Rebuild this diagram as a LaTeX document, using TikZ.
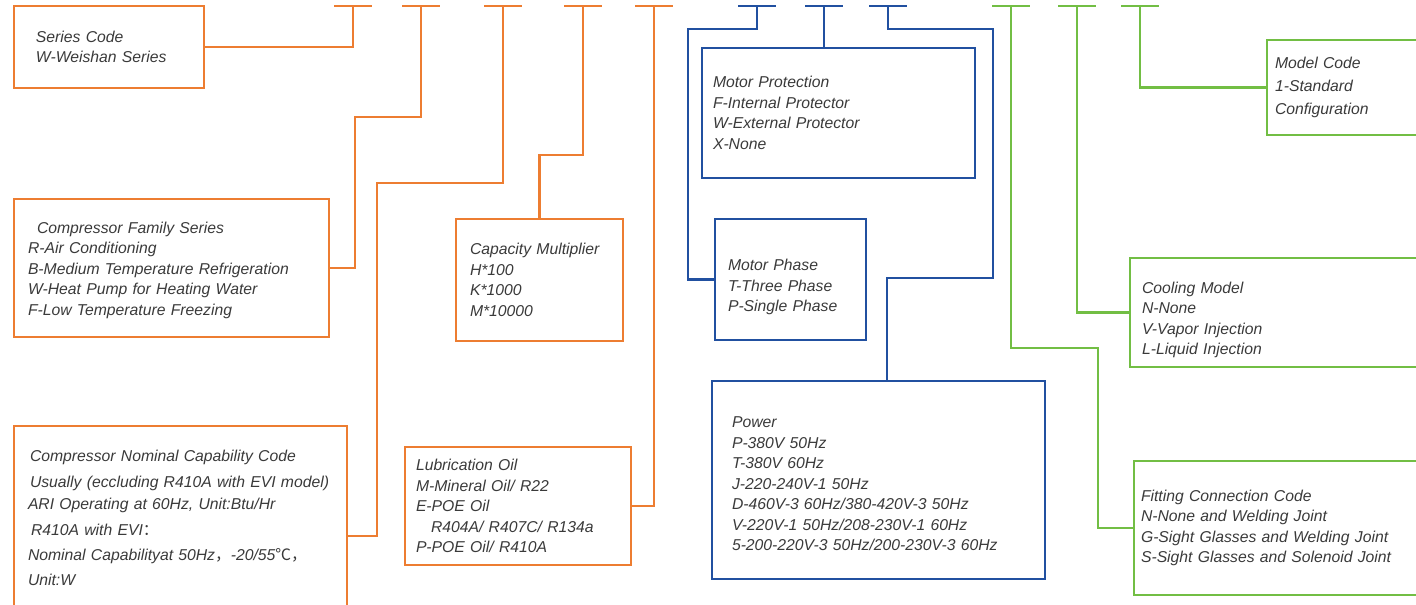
\documentclass[tikz,border=0pt]{standalone}
\usepackage{fontspec}
\setmainfont{Liberation Sans}
\newfontfamily\cjk{Noto Sans CJK SC}
\usetikzlibrary{calc}

\definecolor{codeorange}{HTML}{ED7D31}
\definecolor{codeblue}{HTML}{2150A0}
\definecolor{codegreen}{HTML}{72BE44}
\definecolor{txtgray}{HTML}{3A3A3A}

\tikzset{
  codebox/.style={draw, line width=2.2pt, inner ysep=0pt, outer sep=0pt,
    anchor=north west, align=left, text=txtgray,
    font=\fontsize{11.8}{15.4}\selectfont\itshape},
  orangebox/.style={codebox, draw=codeorange},
  bluebox/.style={codebox, draw=codeblue},
  greenbox/.style={codebox, draw=codegreen},
  link/.style={line width=2.2pt},
  bar/.style={line width=2.2pt}
}

\begin{document}
\begin{tikzpicture}[x=0.75pt, y=-0.75pt]
    \useasboundingbox (0,0) rectangle (1416,605);
    \clip (0,0) rectangle (1416,605);

    % Code positions along the top
    \foreach \n/\x/\c in {t1/353/codeorange, t2/421/codeorange, t3/503/codeorange,
        t4/583/codeorange, t5/654/codeorange, t6/757/codeblue, t7/824/codeblue,
        t8/888/codeblue, t9/1011/codegreen, t10/1077/codegreen, t11/1140/codegreen}{
        \coordinate (\n) at (\x,6);
        \draw[bar, \c] ([xshift=-14pt]\n) -- ([xshift=14pt]\n);
    }

    % Orange boxes
    \node[orangebox, inner xsep=16.5pt, text width=109.5pt, minimum height=61.5pt]
        (series) at (14,6) {Series Code\\W-Weishan Series};
    \node[orangebox, inner xsep=10.5pt, text width=215.25pt, minimum height=103.5pt]
        (family) at (14,199) {\rule{0pt}{12pt}\hspace*{6.75pt}Compressor Family Series\\R-Air Conditioning\\
        B-Medium Temperature Refrigeration\\W-Heat Pump for Heating Water\\F-Low Temperature Freezing};
    \node[orangebox, inner xsep=10.5pt, text width=228.75pt, minimum height=138pt]
        (nominal) at (14,426) {\hspace*{1.5pt}Compressor Nominal Capability Code\\[4pt]
        \hspace*{1.5pt}Usually (eccluding R410A with EVI model)\\[1pt]
        ARI Operating at 60Hz, Unit:Btu/Hr\\[4pt]
        \hspace*{2.25pt}R410A with EVI{\cjk ：}\\[3.4pt]
        Nominal Capabilityat 50Hz{\cjk ，}-20/55{\cjk ℃，}\\[3.4pt]
        Unit:W};
    \node[orangebox, inner xsep=10.5pt, text width=104.25pt, minimum height=91.5pt]
        (capacity) at (456,219) {Capacity Multiplier\\H*100\\K*1000\\M*10000};
    \node[orangebox, inner xsep=8.25pt, text width=153pt, minimum height=88.5pt]
        (lube) at (405,447) {Lubrication Oil\\M-Mineral Oil/ R22\\E-POE Oil\\
        \hspace*{11.25pt}R404A/ R407C/ R134a\\P-POE Oil/ R410A};

    % Blue boxes
    \node[bluebox, inner xsep=8.25pt, text width=188.25pt, minimum height=97.5pt]
        (protection) at (702,48) {Motor Protection\\F-Internal Protector\\W-External Protector\\X-None};
    \node[bluebox, inner xsep=9.75pt, text width=93.75pt, minimum height=90.75pt]
        (phase) at (715,219) {\rule{0pt}{20pt}Motor Phase\\T-Three Phase\\P-Single Phase};
    \node[bluebox, inner xsep=15pt, text width=219.75pt, minimum height=148.5pt]
        (power) at (712,381) {\rule{0pt}{14pt}Power\\P-380V 50Hz\\T-380V 60Hz\\J-220-240V-1 50Hz\\
        D-460V-3 60Hz/380-420V-3 50Hz\\V-220V-1 50Hz/208-230V-1 60Hz\\
        5-200-220V-3 50Hz/200-230V-3 60Hz};

    % Green boxes
    \node[greenbox, inner xsep=6pt, text width=117.75pt, minimum height=71.25pt]
        (model) at (1267,40) {Model Code\\[1.5pt]1-Standard\\[2pt]Configuration};
    \node[greenbox, inner xsep=9pt, text width=214.5pt, minimum height=81.75pt]
        (cooling) at (1130,258) {\rule{0pt}{20pt}Cooling Model\\N-None\\V-Vapor Injection\\L-Liquid Injection};
    \node[greenbox, inner xsep=5.25pt, text width=219pt, minimum height=100.5pt]
        (fitting) at (1134,461) {Fitting Connection Code\\N-None and Welding Joint\\
        G-Sight Glasses and Welding Joint\\S-Sight Glasses and Solenoid Joint};

    % Connectors
    \draw[link, codeorange] (t1) |- (series.east);
    \draw[link, codeorange] (t2) |- (355,117) |- (family.east);
    \draw[link, codeorange] (t3) |- (377,183) |- (nominal.east |- 0,536);
    \draw[link, codeorange] (t4) |- (capacity.north |- 0,155) -- (capacity.north);
    \draw[link, codeorange] (t5) |- (lube.east);
    \draw[link, codeblue] (t6) |- (688,29) |- (phase.west);
    \draw[link, codeblue] (t7) -- (t7 |- protection.north);
    \draw[link, codeblue] (t8) |- (993,29) |- (887,278) -- (power.north -| 887,0);
    \draw[link, codegreen] (t9) |- (1098,348) |- (fitting.west);
    \draw[link, codegreen] (t10) |- (cooling.west);
    \draw[link, codegreen] (t11) |- (model.west);
\end{tikzpicture}
\end{document}
